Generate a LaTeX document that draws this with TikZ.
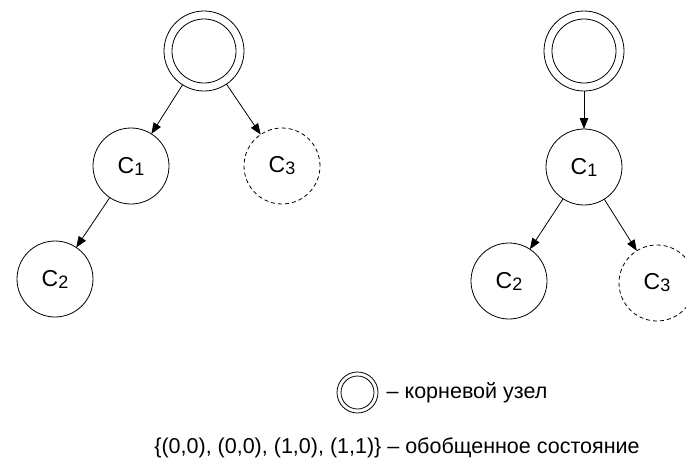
\documentclass[tikz,border=0pt]{standalone}
\usepackage{fontspec}
\setmainfont{Liberation Sans}
\usetikzlibrary{arrows.meta}
\newcommand{\subidx}[1]{\raisebox{-2pt}{\fontsize{18}{18}\selectfont #1}}
\begin{document}
\begin{tikzpicture}[x=1pt,y=-1pt,
  every node/.style={font=\fontsize{21.5}{26}\selectfont},
  cnode/.style={circle, draw, line width=0.8pt, minimum size=76pt, inner sep=0pt, outer sep=0pt, font=\fontsize{23}{26}\selectfont},
  ghost/.style={cnode, dash pattern=on 4pt off 3pt},
  rootnode/.style={circle, draw, line width=0.8pt, minimum size=80pt, inner sep=0pt, outer sep=0pt},
  legroot/.style={circle, draw, line width=0.8pt, minimum size=41pt, inner sep=0pt, outer sep=0pt},
  edge/.style={line width=0.8pt, -{Triangle[length=11pt,width=8.5pt]}},
  innerring/.style={line width=0.8pt}
]
\useasboundingbox (0,0) rectangle (686,458);
\clip (0,0) rectangle (686,458);
% left tree
\node[rootnode] (rl) at (204,51) {};
\draw[innerring] (rl.center) circle[radius=32];
\node[cnode] (c1l) at (131,166) {C\subidx{1}};
\node[ghost] (c3l) at (282,166) {C\subidx{3}};
\node[cnode] (c2l) at (55,279) {C\subidx{2}};
\draw[edge] (rl) -- (c1l);
\draw[edge] (rl) -- (c3l);
\draw[edge] (c1l) -- (c2l);
% right tree
\node[rootnode] (rr) at (584,51) {};
\draw[innerring] (rr.center) circle[radius=32];
\node[cnode] (c1r) at (584,167) {C\subidx{1}};
\node[cnode] (c2r) at (509,281) {C\subidx{2}};
\node[ghost] (c3r) at (657,283) {C\subidx{3}};
\draw[edge] (rr) -- (c1r);
\draw[edge] (c1r) -- (c2r);
\draw[edge] (c1r) -- (c3r);
% legend
\node[legroot] (leg) at (357.5,392.5) {};
\draw[innerring] (leg.center) circle[radius=16.5];
\node[anchor=base west, inner sep=0pt] (legtxt) at (386.5,398) {– корневой узел};
\node[anchor=base, inner sep=0pt] (gen) at (397,453) {\{(0,0), (0,0), (1,0), (1,1)\} – обобщенное состояние};
\end{tikzpicture}
\end{document}
